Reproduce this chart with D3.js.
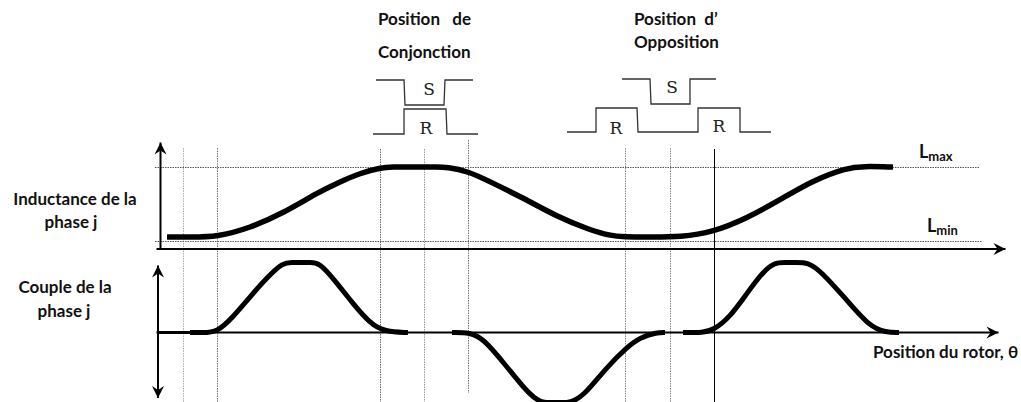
<!DOCTYPE html>
<html>
<head>
<meta charset="utf-8">
<script src="https://cdn.jsdelivr.net/npm/d3@7"></script>
<style>
html, body { margin: 0; padding: 0; background: #fff; overflow: hidden; }
text { font-family: Lato, "Open Sans", sans-serif; font-weight: 700; fill: #111; white-space: pre; }
</style>
</head>
<body>
<script>
// rotor position (theta) and inductance of the phase
var thetaL = [1.17, 5, 9.5, 15, 20.5, 26.17, 30, 33.33, 36.67, 39, 41, 44, 46, 47.83, 51.33, 55, 60.5, 66.17, 71.67, 75, 77.17, 82, 86.67, 92.17, 97.83, 103.33, 108.83, 114.5, 117.17, 122.17];
var inductance = [0, 0, 0, 0.13, 0.34, 0.63, 0.79, 0.91, 0.99, 1, 1, 1, 1, 1, 0.94, 0.79, 0.56, 0.29, 0.1, 0.02, 0, 0, 0, 0.07, 0.27, 0.53, 0.81, 0.99, 1.01, 1];

// torque comes in pieces, the thin axis shows between them
var thetaT0 = [-0.5, 5];
var torque0 = [0, 0];
var thetaT1 = [5, 7, 9.5, 12.17, 15, 18, 20.5, 22, 23.5, 25, 26.5, 29, 32, 35, 37.5, 41.33];
var torque1 = [0, 0, 0, 0.22, 0.51, 0.8, 1, 1, 1, 1, 1, 0.76, 0.43, 0.13, 0.01, 0];
var thetaT2 = [48.67, 51.67, 53.83, 57.83, 61.17, 63.33, 65, 67, 68.33, 70.5, 74.5, 77.83, 80, 82.83, 84.17];
var torque2 = [0, 0, -0.08, -0.49, -0.85, -1, -1, -1, -1, -0.92, -0.49, -0.21, -0.07, 0, 0];
var thetaT3 = [87.17, 90.5, 92.17, 95, 97.83, 100.5, 102.5, 104, 106, 108, 110, 114.5, 118.33, 121, 123.17];
var torque3 = [0, 0, 0.03, 0.22, 0.56, 0.87, 1, 1, 1, 1, 0.89, 0.46, 0.08, 0, 0];

// alignment positions of the rotor
var guides = [3.83, 9.5, 36.67, 44, 51.33, 77.5, 85, 92.33];
var guideStart = [148, 148, 149, 149, 140, 148, 148, 149];
var guideEnd = [402, 402, 402, 402, 393, 402, 402, 402];
var guideColor = ["#aaa", "#777", "#666", "#999", "#777", "#888", "#888", "#000"];
var levels = [1, -0.06];

// stator and rotor tooth outlines above the curves
var conjS = [[36, 0], [40.67, 0], [40.83, 25], [47.33, 25], [47.5, 0], [52.17, 0]];
var conjR = [[35.5, 54], [40.67, 54], [40.67, 29], [47.67, 29], [47.83, 54], [53, 54]];
var oppS = [[77, -1], [81.67, -1], [81.83, 24], [88.33, 24], [88.33, -1], [92.67, -1]];
var oppR = [[67.83, 52], [72.67, 52], [72.67, 28], [79.5, 28], [79.67, 52], [84.67, 52], [89.67, 52], [89.67, 28], [96.67, 28], [96.67, 52], [101.83, 52]];

var width = 1021, height = 402;
var svg = d3.select("body").append("svg")
  .attr("width", width)
  .attr("height", height)
  .style("display", "block");

var x = d3.scaleLinear().domain([0, 140]).range([160, 1000]);
var yL = d3.scaleLinear().domain([0, 1]).range([237, 167]);
var yT = d3.scaleLinear().domain([-1, 1]).range([402.5, 262.5]);
var yP = d3.scaleLinear().domain([0, 54]).range([80, 134]);

// arrow heads
var defs = svg.append("defs");
defs.append("marker")
  .attr("id", "head")
  .attr("markerUnits", "userSpaceOnUse")
  .attr("markerWidth", 16).attr("markerHeight", 14)
  .attr("viewBox", "-13 -7 16 14")
  .attr("refX", 0).attr("refY", 0)
  .attr("orient", "auto-start-reverse")
  .append("path")
  .attr("d", "M-12,-6 L0,0 L-12,6 L-8,0 Z")
  .attr("fill", "#000");

// vertical guides, behind everything
svg.selectAll("line.guide")
  .data(guides).enter().append("line")
  .attr("class", "guide")
  .attr("x1", function(d) { return Math.round(x(d)) + 0.5; })
  .attr("x2", function(d) { return Math.round(x(d)) + 0.5; })
  .attr("y1", function(d, i) { return guideStart[i]; })
  .attr("y2", function(d, i) { return guideEnd[i]; })
  .attr("stroke", function(d, i) { return guideColor[i]; })
  .attr("stroke-width", 1)
  .attr("stroke-dasharray", function(d, i) { return i == 7 ? null : "1.5,1"; });

// Lmax and Lmin dotted levels
svg.selectAll("line.level")
  .data(levels).enter().append("line")
  .attr("class", "level")
  .attr("x1", 155)
  .attr("x2", function(d, i) { return i == 0 ? 979 : 982; })
  .attr("y1", function(d) { return Math.round(yL(d)) + 0.5; })
  .attr("y2", function(d) { return Math.round(yL(d)) + 0.5; })
  .attr("stroke", "#555")
  .attr("stroke-width", 1)
  .attr("stroke-dasharray", "1.5,1");

// axes without ticks, only the arrowed line
function bareAxis(g, axis, start) {
  g.call(axis.tickValues([]).tickSize(0));
  g.select(".domain")
    .attr("stroke", "#000")
    .attr("stroke-width", 2)
    .attr("marker-end", "url(#head)");
  if (start) g.select(".domain").attr("marker-start", "url(#head)");
}
var xTop = d3.scaleLinear().domain([-0.67, 140.83]).range([156, 1005]);
var xBot = d3.scaleLinear().domain([-0.67, 139.67]).range([156, 998]);
var yAxisL = d3.scaleLinear().domain([-0.17, 1.33]).range([249, 142]);
var yAxisT = d3.scaleLinear().domain([-0.93, 0.96]).range([397.5, 265]);

bareAxis(svg.append("g").attr("transform", "translate(0,248.5)"), d3.axisBottom(xTop));
bareAxis(svg.append("g").attr("transform", "translate(0,332)"), d3.axisBottom(xBot));
bareAxis(svg.append("g").attr("transform", "translate(160,0)"), d3.axisLeft(yAxisL));
bareAxis(svg.append("g").attr("transform", "translate(157.5,0)"), d3.axisLeft(yAxisT), true);

// thick curves
var lineL = d3.line()
  .x(function(d, i) { return x(thetaL[i]); })
  .y(function(d) { return yL(d); })
  .curve(d3.curveBasis);
svg.append("path")
  .datum(inductance)
  .attr("d", lineL)
  .attr("fill", "none")
  .attr("stroke", "#000")
  .attr("stroke-width", 5.5);

var pieces = [[thetaT0, torque0, 3], [thetaT1, torque1, 5], [thetaT2, torque2, 5], [thetaT3, torque3, 5]];
svg.selectAll("path.torque")
  .data(pieces).enter().append("path")
  .attr("class", "torque")
  .attr("d", function(p) {
    return d3.line()
      .x(function(d, i) { return x(p[0][i]); })
      .y(function(d) { return yT(d); })
      .curve(d3.curveBasis)(p[1]);
  })
  .attr("fill", "none")
  .attr("stroke", "#000")
  .attr("stroke-width", function(p) { return p[2]; });

// tooth outlines
var lineP = d3.line()
  .x(function(d) { return x(d[0]); })
  .y(function(d) { return yP(d[1]); });
svg.selectAll("path.tooth")
  .data([conjS, conjR, oppS, oppR]).enter().append("path")
  .attr("class", "tooth")
  .attr("d", lineP)
  .attr("fill", "none")
  .attr("stroke", "#333")
  .attr("stroke-width", 1.3);

var toothLabels = [
  {t: "S", x: 429, y: 95}, {t: "R", x: 426, y: 134},
  {t: "S", x: 672, y: 93}, {t: "R", x: 616, y: 134}, {t: "R", x: 719, y: 132}
];
svg.selectAll("text.toothlabel")
  .data(toothLabels).enter().append("text")
  .attr("class", "toothlabel")
  .attr("x", function(d) { return d.x; })
  .attr("y", function(d) { return d.y; })
  .attr("text-anchor", "middle")
  .style("font-family", "'DejaVu Serif', serif")
  .style("font-weight", 400)
  .style("font-size", "17px")
  .style("fill", "#222")
  .text(function(d) { return d.t; });

// labels
var labels = [
  {t: "Position   de", x: 378, y: 25, a: "start"},
  {t: "Conjonction", x: 378, y: 58, a: "start"},
  {t: "Position  d\u2019", x: 634, y: 25, a: "start"},
  {t: "Opposition", x: 634, y: 48, a: "start"},
  {t: "Inductance de la", x: 75, y: 205, a: "middle"},
  {t: "phase j", x: 71, y: 228, a: "middle"},
  {t: "Couple de la", x: 65, y: 293, a: "middle"},
  {t: "phase j", x: 64, y: 317, a: "middle"},
  {t: "Position du rotor, \u03b8", x: 873, y: 358, a: "start"}
];
svg.selectAll("text.label")
  .data(labels).enter().append("text")
  .attr("class", "label")
  .attr("x", function(d) { return d.x; })
  .attr("y", function(d) { return d.y; })
  .attr("text-anchor", function(d) { return d.a; })
  .style("font-size", "17px")
  .text(function(d) { return d.t; });

// Lmax / Lmin with small subscripts
var lims = [{t: "max", x: 919, y: 158}, {t: "min", x: 927, y: 232}];
var lim = svg.selectAll("text.lim")
  .data(lims).enter().append("text")
  .attr("class", "lim")
  .attr("x", function(d) { return d.x; })
  .attr("y", function(d) { return d.y; })
  .style("font-size", "18px");
lim.append("tspan").text("L");
lim.append("tspan")
  .attr("dy", 3)
  .style("font-size", "13px")
  .text(function(d) { return d.t; });
</script>
</body>
</html>
